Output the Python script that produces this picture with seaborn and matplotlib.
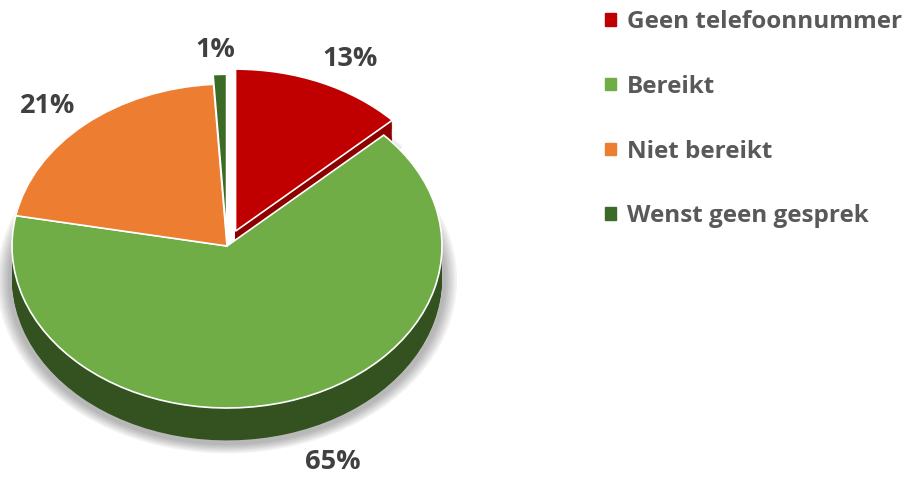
import numpy as np
import matplotlib
matplotlib.use('Agg')
import matplotlib.pyplot as plt
import matplotlib.patches as mpatches
import seaborn as sns

# ── Data ──────────────────────────────────────────────────────────────────────
categories = ['Geen telefoonnummer', 'Bereikt', 'Niet bereikt', 'Wenst geen gesprek']
values = [13, 65, 21, 1]

# ── Style ─────────────────────────────────────────────────────────────────────
sns.set_theme(style='white')
plt.rcParams['font.family'] = ['Open Sans', 'DejaVu Sans']
TEXT = '#404040'
LEG_TEXT = '#595959'
TOP = ['#C00000', '#70AD47', '#ED7D31', '#3B6B26']
SIDE = ['#8E0000', '#33521F', '#B05A1E', '#2A4A1B']
explode = [0.10, 0, 0, 0.06]
label_r = [1.19, 1.42, 1.20, 1.15]
label_dth = [-3.3, 4.0, 2.5, 0.9]   # small angular nudges of the % labels

W, H = 919, 479
cx, cy, rx, ry = 227, 246, 215, 162   # pie centre / radii in pixels
depth = 0.2                            # thickness in y-units

fig = plt.figure(figsize=(W / 100, H / 100), dpi=100)
ax = fig.add_axes([0, 0, 1, 1])

# soft shadow
for k in np.linspace(0.02, 0.07, 6):
    ax.pie(values, startangle=90, counterclock=False, explode=explode,
           center=(0, -depth - 0.01), radius=1 + k, colors=['#000000'] * 4,
           wedgeprops=dict(alpha=0.05, linewidth=0))

# side wall
for d in np.linspace(depth, 0.005, 30):
    ax.pie(values, startangle=90, counterclock=False, explode=explode,
           center=(0, -d), colors=SIDE, wedgeprops=dict(linewidth=0))

# top face
wedges, _ = ax.pie(values, startangle=90, counterclock=False, explode=explode,
                   colors=TOP, wedgeprops=dict(edgecolor='white', linewidth=1.2))

for w, v, r, dt in zip(wedges, values, label_r, label_dth):
    th = np.deg2rad((w.theta1 + w.theta2) / 2 + dt)
    x0, y0 = w.center
    ax.text(x0 + r * np.cos(th), y0 + r * np.sin(th), f'{v}%',
            ha='center', va='center', fontsize=19.5, fontweight='bold', color=TEXT)

ax.set_aspect('auto')
ax.set_xlim(-cx / rx, (W - cx) / rx)
ax.set_ylim((cy - H) / ry, cy / ry)
ax.axis('off')

handles = [mpatches.Patch(color=c, label=l) for c, l in zip(TOP, categories)]
leg = fig.legend(handles=handles, loc='upper left', bbox_to_anchor=(0.635, 1.025),
                 frameon=False, handlelength=0.42, handleheight=0.42,
                 handletextpad=0.45, labelspacing=1.68,
                 prop=dict(size=17.5, weight='bold'))
for t in leg.get_texts():
    t.set_color(LEG_TEXT)

fig.savefig('out.png', dpi=100)
